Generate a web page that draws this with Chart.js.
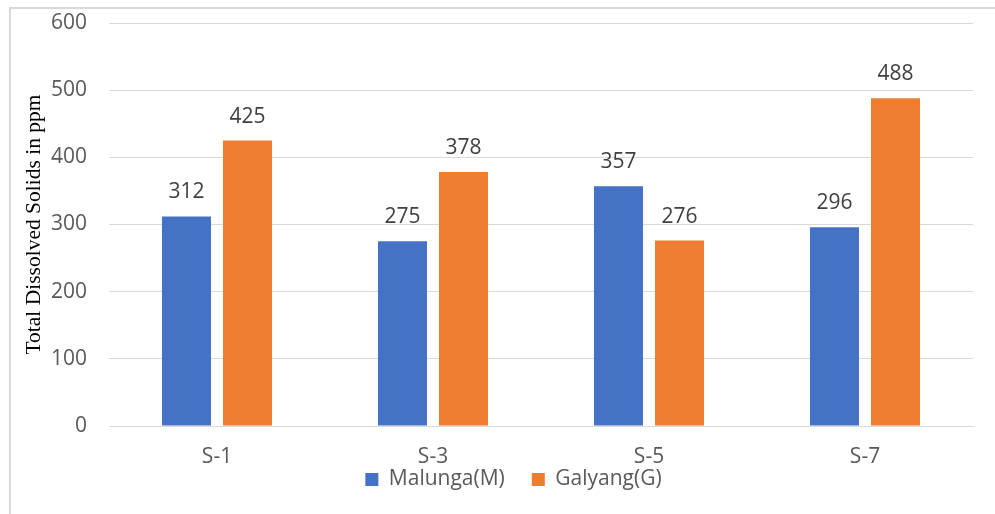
<!DOCTYPE html>
<html>
<head>
<meta charset="utf-8">
<script src="https://cdn.jsdelivr.net/npm/chart.js@4"></script>
<style>
  html, body { margin: 0; padding: 0; background: #fff; }
  #wrap { position: relative; width: 995px; height: 514px; overflow: hidden; }
  #frame { position: absolute; left: 9px; top: 7px; width: 1000px; height: 520px;
           border-left: 2px solid #d9d9d9; border-top: 2px solid #d9d9d9; }
  canvas { position: absolute; left: 0; top: 0; }
</style>
</head>
<body>
<div id="wrap">
  <div id="frame"></div>
  <canvas id="c" width="995" height="514"></canvas>
</div>
<script>
// Sampling sites and total dissolved solids (ppm) for each river
const sites = ['S-1', 'S-3', 'S-5', 'S-7'];
const malunga = [312, 275, 357, 296];
const galyang = [425, 378, 276, 488];
const yTicks = [0, 100, 200, 300, 400, 500, 600];

const FONT = '"Open Sans", Lato, sans-serif';

// Writes each bar's value just above it
const valueLabels = {
  id: 'valueLabels',
  afterDatasetsDraw(chart) {
    const ctx = chart.ctx;
    ctx.save();
    ctx.font = '21px ' + FONT;
    ctx.fillStyle = '#404040';
    ctx.textAlign = 'center';
    ctx.textBaseline = 'middle';
    chart.data.datasets.forEach((ds, i) => {
      chart.getDatasetMeta(i).data.forEach((bar, j) => {
        ctx.fillText(String(ds.data[j]), bar.x, bar.y - 24);
      });
    });
    ctx.restore();
  }
};

new Chart(document.getElementById('c'), {
  type: 'bar',
  data: {
    labels: sites,
    datasets: [
      { label: 'Malunga(M)', data: malunga, backgroundColor: '#4472C4' },
      { label: 'Galyang(G)', data: galyang, backgroundColor: '#ED7D31' }
    ]
  },
  options: {
    responsive: false,
    animation: false,
    devicePixelRatio: 1,
    layout: { padding: { left: 54, right: 22, top: 23, bottom: 14 } },
    datasets: { bar: { categoryPercentage: 0.565, barPercentage: 0.803 } },
    plugins: {
      legend: {
        position: 'bottom',
        labels: {
          font: { family: FONT, size: 21 },
          color: '#595959',
          boxWidth: 13, boxHeight: 13,
          padding: 27
        }
      },
      tooltip: { enabled: false }
    },
    scales: {
      x: {
        afterFit(scale) {
          scale.height = 16;
          scale.paddingLeft = 0; scale.paddingRight = 0;
        },
        grid: { display: false, drawTicks: false },
        border: { display: true, color: '#d9d9d9', width: 1 },
        ticks: { font: { family: FONT, size: 21 }, color: '#595959', mirror: true, padding: -44 }
      },
      y: {
        min: 0, max: 600,
        afterBuildTicks(scale) { scale.ticks = yTicks.map(v => ({ value: v })); },
        afterFit(scale) {
          scale.width = 55;
          scale.paddingTop = 0; scale.paddingBottom = 0;
        },
        grid: { color: '#d9d9d9', lineWidth: 1, drawTicks: false },
        border: { display: false },
        ticks: {
          font: { family: FONT, size: 21 }, color: '#595959',
          mirror: true, crossAlign: 'far', padding: -58
        },
        title: {
          display: true,
          text: 'Total Dissolved Solids in ppm',
          font: { family: '"Liberation Serif", "Times New Roman", serif', size: 21.5 },
          color: '#000',
          padding: { top: -33, bottom: 0 }
        }
      }
    }
  },
  plugins: [valueLabels]
});
</script>
</body>
</html>
